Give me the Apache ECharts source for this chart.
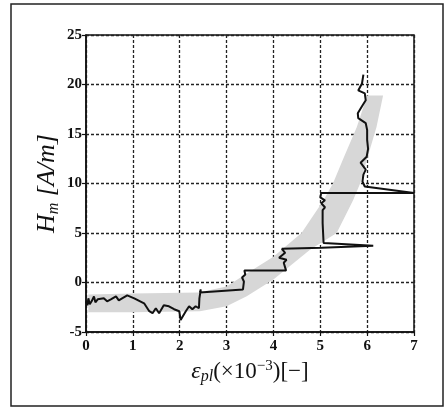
<!DOCTYPE html>
<html>
<head>
<meta charset="utf-8">
<script src="https://cdn.jsdelivr.net/npm/echarts@6/dist/echarts.min.js"></script>
<style>
html,body{margin:0;padding:0;background:#fff;}
#chart{width:444px;height:409px;}
</style>
</head>
<body>
<div id="chart"></div>
<script>
// Axis ticks
var xTicks = [0, 1, 2, 3, 4, 5, 6, 7];
var yTicks = [-5, 0, 5, 10, 15, 20, 25];

// Measured curve (black line)
var lineX = [0.00, 0.03, 0.05, 0.08, 0.12, 0.17, 0.20, 0.25, 0.38, 0.45, 0.53, 0.64, 0.70, 0.77, 0.88, 1.03,
  1.24, 1.35, 1.42, 1.49, 1.56, 1.66, 1.77, 1.88, 1.99, 2.02, 2.13, 2.20, 2.27, 2.34, 2.41, 2.42, 2.45, 2.43,
  3.35, 3.37, 3.33, 3.40, 3.38, 4.27, 4.22, 4.28, 4.12, 4.25, 4.18, 4.22, 5.03, 6.13, 5.07, 5.05, 5.05, 5.10,
  5.02, 5.10, 5.00, 5.02, 7.00, 5.95, 5.90, 5.92, 5.97, 5.86, 5.99, 6.02, 6.00, 6.00, 5.97, 5.81, 5.80, 5.89,
  5.97, 5.95, 5.81, 5.89, 5.92];
var lineY = [-1.9, -2.3, -1.6, -2.2, -1.9, -1.4, -2.0, -1.7, -1.6, -1.9, -1.7, -1.4, -1.8, -1.6, -1.3, -1.6,
  -2.1, -2.9, -3.1, -2.6, -3.1, -2.3, -2.4, -2.7, -2.9, -3.8, -2.9, -2.4, -2.7, -2.4, -2.6, -1.6, -0.7, -1.0,
  -0.7, 0.1, 0.5, 0.8, 1.2, 1.2, 2.0, 2.3, 2.5, 3.0, 3.4, 3.5, 3.5, 3.7, 4.0, 6.0, 7.3, 7.6,
  8.0, 8.3, 8.6, 9.05, 9.05, 9.7, 10.2, 10.9, 11.4, 12.1, 12.7, 13.5, 14.4, 15.4, 16.1, 16.6, 17.1, 17.8,
  18.4, 19.1, 19.4, 20.1, 21.0];

// Grey scatter band: upper/left edge and lower/right edge
var bandUpperX = [0.05, 1.00, 2.40, 3.00, 3.43, 4.00, 4.60, 5.07, 5.27, 5.49, 5.78, 6.00];
var bandUpperY = [-1.2, -1.1, -1.0, -0.4, 0.9, 2.6, 5.0, 8.3, 10.0, 12.5, 15.7, 18.9];
var bandLowerX = [0.05, 1.00, 2.43, 3.00, 3.43, 4.00, 4.78, 5.35, 5.70, 5.85, 6.00, 6.20, 6.34];
var bandLowerY = [-3.0, -3.0, -2.9, -2.4, -1.4, 0.3, 3.3, 5.0, 8.3, 10.0, 12.5, 15.7, 18.9];

var linePts = lineX.map(function (x, i) { return [x, lineY[i]]; });
var bandPoly = [];
bandUpperX.forEach(function (x, i) { bandPoly.push([x, bandUpperY[i]]); });
for (var i = bandLowerX.length - 1; i >= 0; i--) bandPoly.push([bandLowerX[i], bandLowerY[i]]);

var serif = 'Liberation Serif';
var chart = echarts.init(document.getElementById('chart'));
chart.setOption({
  animation: false,
  backgroundColor: '#fff',
  graphic: [{
    type: 'rect', shape: {x: 11, y: 4, width: 432, height: 402},
    style: {fill: 'none', stroke: '#222', lineWidth: 1.5}, z: -1
  }],
  grid: {left: 86, right: 30, top: 35, bottom: 77, show: true, borderColor: '#111', borderWidth: 1.5, backgroundColor: 'transparent'},
  xAxis: {
    type: 'value', min: xTicks[0], max: xTicks[xTicks.length - 1], interval: 1,
    axisLine: {show: true, onZero: false, lineStyle: {color: '#111', width: 1.5}},
    axisTick: {show: true, inside: false, length: 4, lineStyle: {color: '#111', width: 1.2}},
    axisLabel: {color: '#111', fontFamily: serif, fontSize: 15, fontWeight: 'bold', margin: 7},
    splitLine: {show: true, lineStyle: {color: '#222', width: 1.3, type: [3, 2]}},
    name: '{e|ε}{s|pl}{t|(×10}{sup|−3}{t|)[−]}',
    nameLocation: 'middle', nameGap: 23,
    nameTextStyle: {
      rich: {
        e: {fontFamily: serif, fontStyle: 'italic', fontSize: 24, color: '#111', lineHeight: 26},
        s: {fontFamily: serif, fontStyle: 'italic', fontSize: 16, color: '#111', lineHeight: 14, verticalAlign: 'bottom'},
        t: {fontFamily: serif, fontSize: 23, color: '#111', lineHeight: 26},
        sup: {fontFamily: serif, fontSize: 15, color: '#111', lineHeight: 13, verticalAlign: 'top'}
      }
    }
  },
  yAxis: {
    type: 'value', min: yTicks[0], max: yTicks[yTicks.length - 1], interval: 5,
    axisLine: {show: true, onZero: false, lineStyle: {color: '#111', width: 1.5}},
    axisTick: {show: true, inside: false, length: 4, lineStyle: {color: '#111', width: 1.2}},
    axisLabel: {color: '#111', fontFamily: serif, fontSize: 15, fontWeight: 'bold', margin: 4},
    splitLine: {show: true, lineStyle: {color: '#222', width: 1.3, type: [3, 2]}},
    name: '{h|H}{s|m}{t| [A/m]}',
    nameLocation: 'middle', nameGap: 24, nameRotate: 90, nameMoveOverlap: false,
    nameTextStyle: {
      rich: {
        h: {fontFamily: serif, fontStyle: 'italic', fontSize: 26, color: '#111', lineHeight: 30},
        s: {fontFamily: serif, fontStyle: 'italic', fontSize: 16, color: '#111', lineHeight: 15, verticalAlign: 'bottom'},
        t: {fontFamily: serif, fontStyle: 'italic', fontSize: 26, color: '#111', lineHeight: 30}
      }
    }
  },
  series: [{
    type: 'custom',
    data: [0],
    clip: true,
    z: 1,
    renderItem: function (params, api) {
      var pts = bandPoly.map(function (p) { return api.coord(p); });
      return {type: 'polygon', shape: {points: pts}, style: {fill: '#d7d7d7', stroke: 'none'}};
    }
  }, {
    type: 'line',
    data: linePts,
    showSymbol: false,
    symbol: 'none',
    z: 3,
    lineStyle: {color: '#111', width: 2},
    clip: false
  }]
});
</script>
</body>
</html>
